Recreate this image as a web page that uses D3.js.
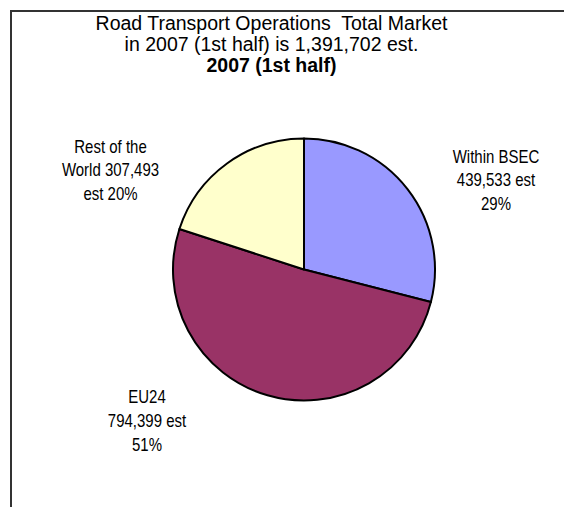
<!DOCTYPE html>
<html>
<head>
<meta charset="utf-8">
<script src="https://cdn.jsdelivr.net/npm/d3@7"></script>
<style>
  html, body { margin: 0; padding: 0; background: #fff; }
  svg { display: block; }
  text { font-family: "Liberation Sans", Arial, sans-serif; fill: #000; white-space: pre; }
</style>
</head>
<body>
<svg id="chart" width="564" height="507"></svg>
<script>
// Data
const categories = ["Within BSEC", "EU24", "Rest of the World"];
const percents = [29, 51, 20];
const amounts = ["439,533", "794,399", "307,493"];
const colors = ["#9999FF", "#993366", "#FFFFCC"];
const titleLines = [
  "Road Transport Operations  Total Market",
  "in 2007 (1st half) is 1,391,702 est.",
  "2007 (1st half)"
];
const labelLines = [
  ["Within BSEC", "439,533 est", "29%"],
  ["EU24", "794,399 est", "51%"],
  ["Rest of the", "World 307,493", "est 20%"]
];

const svg = d3.select("#chart");
const W = 564, H = 507;

// frame (right/bottom edges lie outside the view)
svg.append("path")
  .attr("d", `M11,${H + 2} L11,11 L${W + 2},11`)
  .attr("fill", "none")
  .attr("stroke", "#333")
  .attr("stroke-width", 2);

// title
const tx = 271.5;
const titleY = [30, 51, 72];
titleLines.forEach((t, i) => {
  svg.append("text")
    .attr("x", tx)
    .attr("y", titleY[i])
    .attr("text-anchor", "middle")
    .attr("xml:space", "preserve")
    .style("font-size", "19.5px")
    .style("font-weight", i === 2 ? "bold" : "normal")
    .text(t);
});

// pie
const cx = 304, cy = 269.5, r = 131;
const pie = d3.pie().sort(null).value(d => d)(percents);
const arc = d3.arc().innerRadius(0).outerRadius(r);
const g = svg.append("g").attr("transform", `translate(${cx},${cy})`);
g.selectAll("path")
  .data(pie)
  .join("path")
  .attr("d", arc)
  .attr("fill", (d, i) => colors[i])
  .attr("stroke", "#000")
  .attr("stroke-width", 2)
  .attr("stroke-linejoin", "round");

// labels (reference text is slightly condensed: taller than its width suggests)
const labelPos = [
  { x: 496, y: [162.7, 186.3, 210] },
  { x: 147, y: [403.3, 426.7, 450.5] },
  { x: 110.5, y: [152.7, 176.3, 200] }
];
labelLines.forEach((lines, i) => {
  lines.forEach((t, j) => {
    svg.append("text")
      .attr("transform", `translate(${labelPos[i].x},${labelPos[i].y[j]}) scale(1,1.2)`)
      .attr("text-anchor", "middle")
      .style("font-size", "15px")
      .text(t);
  });
});
</script>
</body>
</html>
